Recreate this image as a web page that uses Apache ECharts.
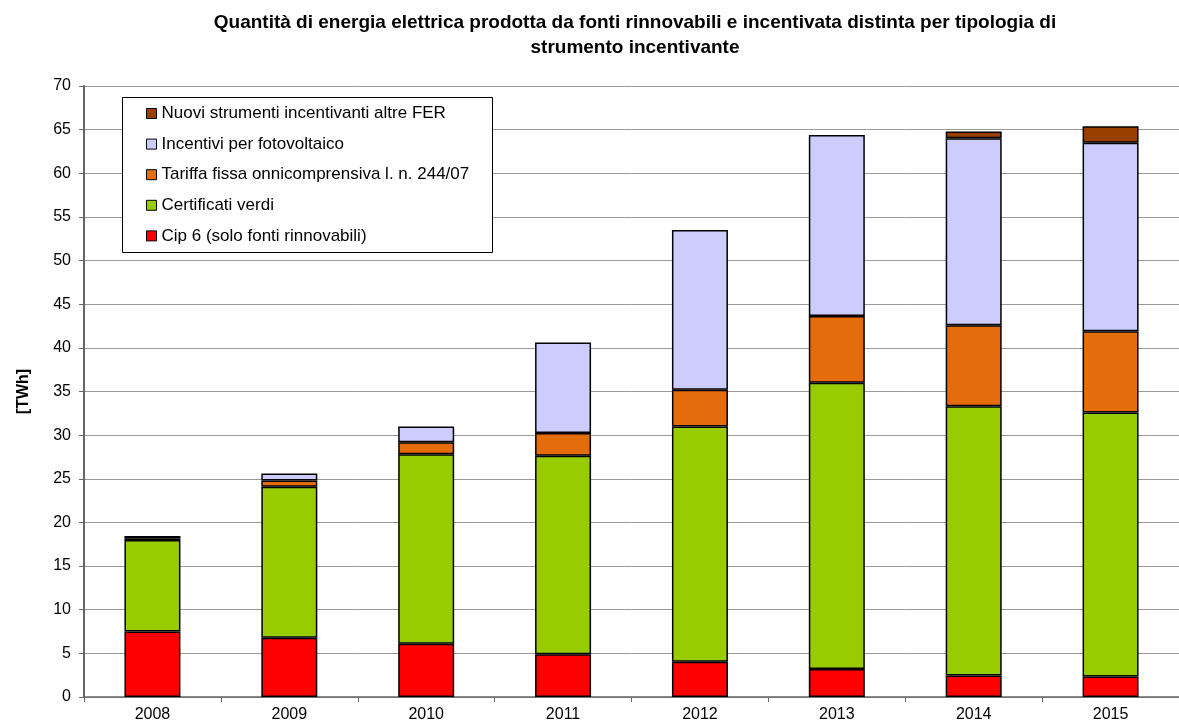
<!DOCTYPE html>
<html>
<head>
<meta charset="utf-8">
<script src="https://cdn.jsdelivr.net/npm/echarts@6/dist/echarts.min.js"></script>
<style>html,body{margin:0;padding:0;background:#fff}#c{width:1179px;height:726px}</style>
</head>
<body>
<div id="c"></div>
<script>
const years = ['2008','2009','2010','2011','2012','2013','2014','2015'];
const cip6 = [7.5, 6.8, 6.1, 4.9, 4.05, 3.2, 2.45, 2.35];
const certificatiVerdi = [10.5, 17.3, 21.7, 22.75, 26.95, 32.8, 30.85, 30.25];
const tariffaFissa = [0.2, 0.7, 1.4, 2.6, 4.2, 7.65, 9.3, 9.3];
const fotovoltaico = [0.25, 0.8, 1.8, 10.35, 18.3, 20.75, 21.4, 21.6];
const nuoviStrumenti = [0, 0, 0, 0, 0, 0, 0.8, 1.9];
const seriesNames = ['Cip 6 (solo fonti rinnovabili)','Certificati verdi','Tariffa fissa onnicomprensiva l. n. 244/07','Incentivi per fotovoltaico','Nuovi strumenti incentivanti altre FER'];
const seriesColors = ['#FF0000','#99CC00','#E46C0A','#CCCCFF','#993F00'];
const seriesData = [cip6, certificatiVerdi, tariffaFissa, fotovoltaico, nuoviStrumenti];

const font = '"Liberation Sans", Arial, sans-serif';
const chart = echarts.init(document.getElementById('c'));
chart.setOption({
  animation: false,
  backgroundColor: '#fff',
  title: {
    text: 'Quantità di energia elettrica prodotta da fonti rinnovabili e incentivata distinta per tipologia di\nstrumento incentivante',
    left: 630, textAlign: 'center', top: 5,
    textStyle: {fontFamily: font, fontSize: 19, fontWeight: 'bold', color: '#000', lineHeight: 25}
  },
  graphic: [{
    type: 'rect', left: 122, top: 97, z: 5,
    shape: {width: 370, height: 155},
    style: {fill: '#fff', stroke: '#000', lineWidth: 1}
  }],
  legend: {
    orient: 'vertical', left: 146, top: 105, padding: 0, z: 10,
    data: seriesNames.slice().reverse(),
    icon: 'rect', itemWidth: 10, itemHeight: 10, itemGap: 13.6, itemTextGap: 4,
    itemStyle: {borderColor: '#000', borderWidth: 1},
    textStyle: {fontFamily: font, fontSize: 17, color: '#000', lineHeight: 17}
  },
  grid: {left: 84, top: 86, width: 1102, height: 611},
  xAxis: {
    type: 'category', data: years,
    axisLine: {lineStyle: {color: '#666', width: 1.5}},
    axisTick: {show: true, alignWithLabel: false, length: 5, lineStyle: {color: '#666'}},
    axisLabel: {fontFamily: font, fontSize: 16, color: '#000', margin: 10}
  },
  yAxis: {
    type: 'value', min: 0, max: 70, interval: 5,
    name: '[TWh]', nameLocation: 'middle', nameGap: 52,
    nameTextStyle: {fontFamily: font, fontSize: 16, fontWeight: 'bold', color: '#000'},
    axisLine: {show: true, lineStyle: {color: '#666', width: 2}},
    axisTick: {show: true, length: 5, lineStyle: {color: '#666'}},
    axisLabel: {fontFamily: font, fontSize: 16, color: '#000', margin: 13},
    splitLine: {lineStyle: {color: '#999', width: 1}}
  },
  series: seriesData.map((d, i) => ({
    name: seriesNames[i], type: 'bar', stack: 'tot',
    data: d.map(v => (v === 0 ? null : v)), barWidth: 56,
    itemStyle: {color: seriesColors[i], borderColor: '#000', borderWidth: 1.5}
  }))
});
</script>
</body>
</html>
